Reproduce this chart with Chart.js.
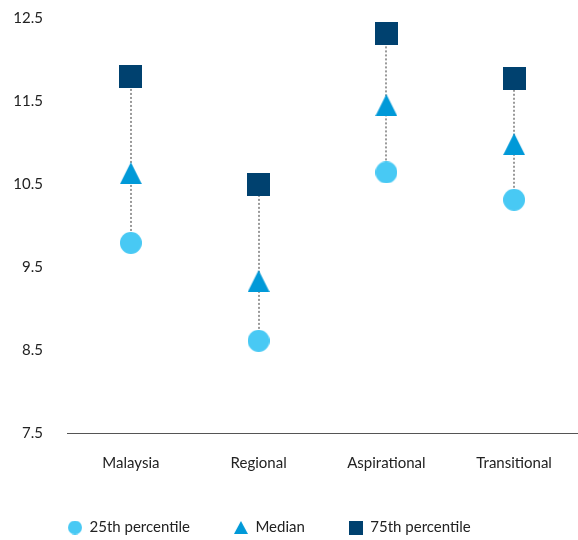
<!DOCTYPE html>
<html>
<head>
<meta charset="utf-8">
<script src="https://cdn.jsdelivr.net/npm/chart.js@4/dist/chart.umd.min.js"></script>
<style>
  html, body { margin: 0; padding: 0; background: #fff; }
  #wrap { width: 578px; height: 540px; }
</style>
</head>
<body>
<div id="wrap"><canvas id="rangeChart"></canvas></div>
<script>
// categories and percentile values
const categories = ['Malaysia', 'Regional', 'Aspirational', 'Transitional'];
const p25 = [9.79, 8.61, 10.64, 10.31];
const median = [10.63, 9.33, 11.45, 10.98];
const p75 = [11.80, 10.50, 12.31, 11.77];
const seriesNames = ['25th percentile', 'Median', '75th percentile'];
const yTicks = [7.5, 8.5, 9.5, 10.5, 11.5, 12.5];

const colors = ['#48c9f4', '#0099d8', '#00416f'];

// small canvases used as point styles
function makeMark(shape, w, h, color) {
    const c = document.createElement('canvas');
    c.width = w;
    c.height = h;
    const g = c.getContext('2d');
    g.fillStyle = color;
    g.beginPath();
    if (shape === 'circle') {
        g.arc(w / 2, h / 2, w / 2, 0, Math.PI * 2);
    } else if (shape === 'triangle') {
        g.moveTo(w / 2, 0);
        g.lineTo(w, h);
        g.lineTo(0, h);
        g.closePath();
    } else {
        g.rect(0, 0, w, h);
    }
    g.fill();
    return c;
}

const pointMarks = [
    makeMark('circle', 22, 22, colors[0]),
    makeMark('triangle', 22, 22, colors[1]),
    makeMark('rect', 23, 23, colors[2])
];
const legendMarks = [
    makeMark('circle', 14, 14, colors[0]),
    makeMark('triangle', 14, 13, colors[1]),
    makeMark('rect', 14, 14, colors[2])
];

// dotted gray connector from lowest to highest value in each category
const connectors = {
    id: 'connectors',
    beforeDatasetsDraw(chart) {
        const ctx = chart.ctx;
        const x = chart.scales.x;
        const y = chart.scales.y;
        ctx.save();
        ctx.strokeStyle = '#9a9a9a';
        ctx.lineWidth = 2;
        ctx.setLineDash([2, 2]);
        categories.forEach((c, i) => {
            const lo = Math.min(p25[i], median[i], p75[i]);
            const hi = Math.max(p25[i], median[i], p75[i]);
            const px = Math.round(x.getPixelForValue(i));
            ctx.beginPath();
            ctx.moveTo(px, y.getPixelForValue(lo));
            ctx.lineTo(px, y.getPixelForValue(hi));
            ctx.stroke();
        });
        ctx.restore();
    }
};

// short legend box with wide item spacing, starting a bit in from the left
const legendBox = {
    id: 'legendBox',
    beforeLayout(chart) {
        const lg = chart.legend;
        if (lg && !lg._fixedHeight) {
            const fit = lg.fit.bind(lg);
            lg.fit = function () {
                fit();
                this.height = 64;
            };
            lg._fixedHeight = true;
        }
    },
    afterLayout(chart) {
        if (chart.legend) chart.legend.left = 24;
    }
};

const font = { family: 'Lato', size: 15 };

new Chart(document.getElementById('rangeChart'), {
    type: 'line',
    data: {
        labels: categories,
        datasets: [p25, median, p75].map((vals, i) => ({
            label: seriesNames[i],
            data: vals,
            showLine: false,
            pointStyle: pointMarks[i],
            backgroundColor: colors[i],
            borderColor: colors[i]
        }))
    },
    options: {
        responsive: true,
        maintainAspectRatio: false,
        animation: false,
        layout: { autoPadding: false, padding: { top: 18, right: 0, left: 0, bottom: 0 } },
        plugins: {
            tooltip: { enabled: false },
            legend: {
                position: 'bottom',
                align: 'start',
                labels: {
                    usePointStyle: true,
                    boxWidth: 14,
                    boxHeight: 14,
                    padding: 44,
                    color: '#222',
                    font: font,
                    generateLabels(chart) {
                        const items = Chart.defaults.plugins.legend.labels.generateLabels(chart);
                        items.forEach((it, i) => { it.pointStyle = legendMarks[i]; });
                        return items;
                    }
                }
            }
        },
        scales: {
            x: {
                offset: true,
                afterFit(scale) { scale.height = 43; },
                grid: { display: false, drawTicks: false },
                border: { display: true, color: '#555', width: 1 },
                ticks: { color: '#222', font: font, padding: 21 }
            },
            y: {
                min: 7.5,
                max: 12.5,
                afterFit(scale) {
                    scale.width = 67;
                    scale.paddingTop = 9;
                    scale.paddingBottom = 9;
                },
                afterBuildTicks(scale) { scale.ticks = yTicks.map(v => ({ value: v })); },
                grid: { display: false, drawTicks: false },
                border: { display: false },
                ticks: { color: '#222', font: font, padding: 24 }
            }
        }
    },
    plugins: [connectors, legendBox]
});
</script>
</body>
</html>
